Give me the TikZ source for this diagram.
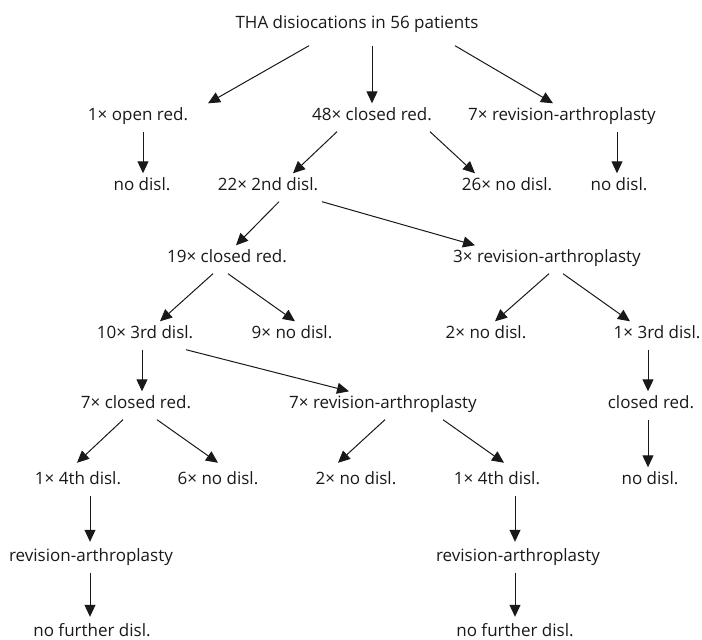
\documentclass[tikz,border=0pt]{standalone}
\usepackage{fontspec}
\setmainfont{Open Sans}
\usetikzlibrary{arrows.meta}

\begin{document}
\begin{tikzpicture}[
		x=1pt, y=-1pt,
		font=\fontsize{17}{20}\selectfont,
		>={Triangle[length=12pt,width=11pt]},
		lab/.style={
			anchor=base, text=black!90,
			inner xsep=0pt, inner ysep=9pt,
			text height=0.75em, text depth=0.25em
		},
		lift/.style={text height=#1},
		arr/.style={->, line width=1pt, black!90}
		]
		\useasboundingbox (0,0) rectangle (702,640);
		
		\node[lab, inner ysep=15pt] (title) at (357,28) {THA disiocations in 56 patients};
		
		\node[lab] (open)    at (138,120) {1× open red.};
		\node[lab] (closedA) at (372,120) {48× closed red.};
		\node[lab] (revA)    at (562,120) {7× revision-arthroplasty};
		
		\node[lab] (nodislA)  at (142,190) {no disl.};
		\node[lab] (second)   at (268,190) {22× 2nd disl.};
		\node[lab] (nodisl26) at (507,190) {26× no disl.};
		\node[lab] (nodislB)  at (619,190) {no disl.};
		
		\node[lab] (closedB) at (227,262) {19× closed red.};
		\node[lab] (revB)    at (547,262) {3× revision-arthroplasty};
		
		\node[lab] (thirdA)  at (145,338) {10× 3rd disl.};
		\node[lab] (nodisl9) at (292,338) {9× no disl.};
		\node[lab] (nodisl2) at (486,338) {2× no disl.};
		\node[lab] (thirdB)  at (657,338) {1× 3rd disl.};
		
		\node[lab] (closedC) at (136,408) {7× closed red.};
		\node[lab] (revC)    at (383,408) {7× revision-arthroplasty};
		\node[lab] (closedD) at (651,408) {closed red.};
		
		\node[lab, lift=1.2em] (fourthA)  at (78,484)  {1× 4th disl.};
		\node[lab, lift=1.2em] (nodisl6)  at (218,484) {6× no disl.};
		\node[lab, lift=1.2em] (nodisl2b) at (356,484) {2× no disl.};
		\node[lab, lift=1.2em] (fourthB)  at (497,484) {1× 4th disl.};
		\node[lab] (nodislC)  at (650,484) {no disl.};
		
		\node[lab, lift=1em] (revD) at (91,561)  {revision-arthroplasty};
		\node[lab, lift=1em] (revE) at (518,561) {revision-arthroplasty};
		
		\node[lab, lift=1em] (furtherA) at (92,636)  {no further disl.};
		\node[lab, lift=1em] (furtherB) at (515,636) {no further disl.};
		
		% slanted arrows
		\foreach \a/\sa/\b/\sb in {title/-48/open/70, title/98/revA/-9,
			closedA/-35/second/25, closedA/58/nodisl26/-32,
			second/11/closedB/9, second/54/revB/-72,
			closedB/-14/thirdA/15, closedB/1/nodisl9/3,
			revB/2/nodisl2/9, revB/16/thirdB/-27,
			thirdA/41/revC/-34,
			closedC/-13/fourthA/-1, closedC/21/nodisl6/0,
			revC/2/nodisl2b/-18, revC/60/fourthB/7}
		\draw[arr] ([xshift=\sa pt]\a.south) -- ([xshift=\sb pt]\b.north);
		
		% straight down
		\foreach \a/\s/\b in {title/15/closedA, open/5/nodislA, revA/55/nodislB,
			thirdA/-3/closedC, thirdB/-9/closedD, closedD/-3/nodislC,
			fourthA/12/revD, revD/-1/furtherA, fourthB/18/revE, revE/-3/furtherB}
		\draw[arr] ([xshift=\s pt]\a.south) -- ([xshift=\s pt]\a.south |- \b.north);
\end{tikzpicture}
\end{document}
